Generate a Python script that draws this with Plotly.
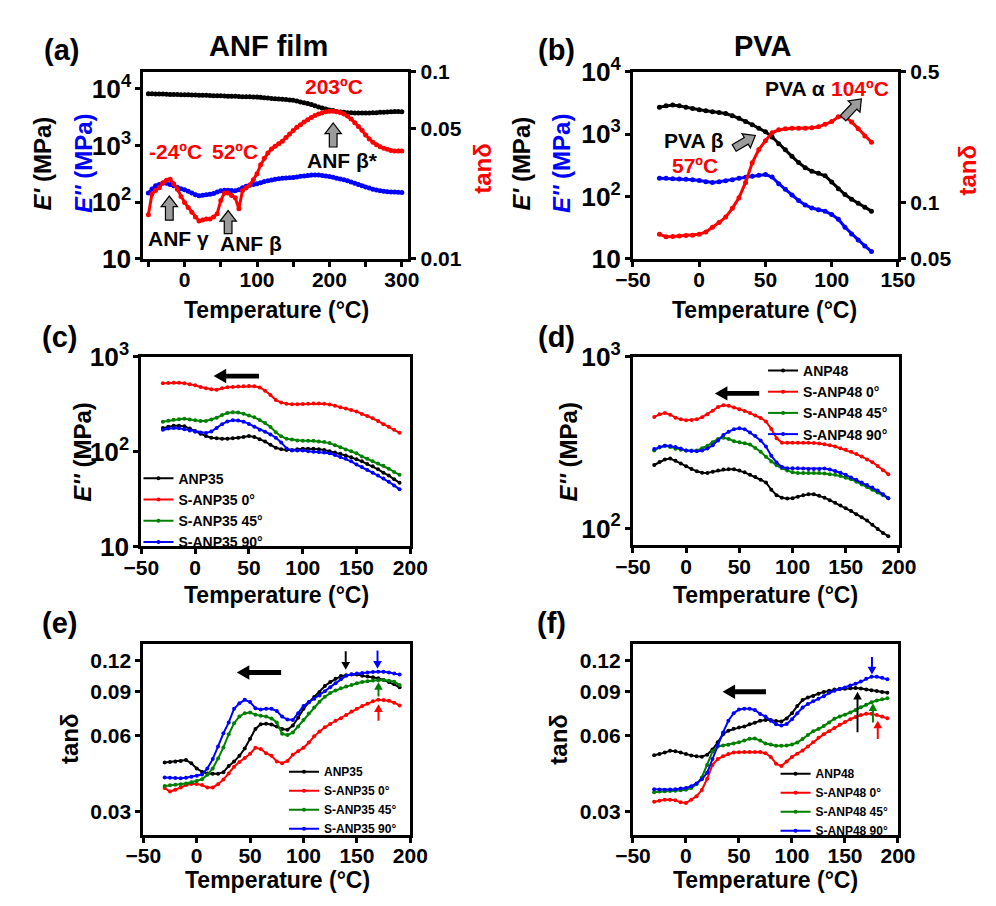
import math
import plotly.graph_objects as go

W, H = 996, 906

# ---------------- DATA ----------------
# (a) ANF film
T_A = list(range(-50, 305, 5))
A_Eprime = [8200, 8200, 8150, 8100, 8100, 8050, 8000, 8000, 7950, 7900,
            7900, 7850, 7800, 7800, 7750, 7700, 7700, 7650, 7600, 7600,
            7550, 7500, 7450, 7400, 7400, 7350, 7300, 7300, 7250, 7200,
            7200, 7100, 7000, 6900, 6800, 6700, 6650, 6550, 6500, 6400,
            6300, 6100, 5900, 5700, 5550, 5300, 5050, 4800, 4600, 4400,
            4250, 4150, 4000, 3900, 3850, 3800, 3780, 3760, 3750, 3750,
            3750, 3760, 3780, 3800, 3850, 3880, 3900, 3950, 3970, 3980,
            3950]
A_Edouble = [145, 170, 195, 205, 215, 215, 205, 195, 182, 172,
             165, 155, 145, 135, 130, 132, 135, 138, 142, 150,
             158, 162, 162, 160, 158, 165, 180, 190, 198, 205,
             210, 220, 230, 238, 245, 252, 258, 263, 267, 270,
             272, 278, 285, 290, 295, 300, 302, 300, 295, 290,
             283, 275, 265, 257, 249, 238, 226, 215, 205, 195,
             185, 177, 168, 163, 158, 155, 153, 151, 150, 149,
             148]
A_tan = [0.0172, 0.0222, 0.0232, 0.0240, 0.0255, 0.0263, 0.0266, 0.0252, 0.0235, 0.0215,
         0.0200, 0.0188, 0.0177, 0.0167, 0.0159, 0.0161, 0.0163, 0.0163, 0.0167, 0.0174,
         0.0205, 0.0225, 0.0225, 0.0218, 0.0212, 0.0185, 0.0232, 0.0240, 0.0248, 0.0265,
         0.0285, 0.0318, 0.0345, 0.0368, 0.0387, 0.0400, 0.0412, 0.0425, 0.0445, 0.0465,
         0.0485, 0.0505, 0.0521, 0.0540, 0.0555, 0.0570, 0.0585, 0.0596, 0.0605, 0.0612,
         0.0615, 0.0616, 0.0613, 0.0606, 0.0595, 0.0580, 0.0560, 0.0535, 0.0511, 0.0487,
         0.0460, 0.0437, 0.0420, 0.0407, 0.0397, 0.0390, 0.0385, 0.0380, 0.0377, 0.0377,
         0.0377]

# (b) PVA
T_B = list(range(-30, 135, 5))
B_Eprime = [2720, 2850, 2950, 2850, 2700, 2580, 2470, 2380, 2300, 2230,
            2145, 1980, 1800, 1600, 1416, 1250, 1091, 900, 700, 560,
            440, 350, 290, 254, 235, 215, 170, 133, 107, 90,
            78, 67, 58]
B_Edouble = [196, 195, 193, 191, 189, 186, 180, 172, 168, 172,
             178, 185, 195, 203, 210, 218, 224, 205, 160, 130,
             105, 86, 73, 65, 61, 58, 51, 43, 32, 25,
             20, 16, 13]
B_tan = [0.0675, 0.0655, 0.0658, 0.0662, 0.0665, 0.0668, 0.0675, 0.0695, 0.0736, 0.0780,
         0.0835, 0.0930, 0.1060, 0.1280, 0.1630, 0.1920, 0.2140, 0.2360, 0.2450, 0.2480,
         0.2500, 0.2500, 0.2500, 0.2510, 0.2540, 0.2620, 0.2710, 0.2876, 0.2876, 0.2700,
         0.2480, 0.2270, 0.2100]

# (c)-(f) common temperature grid
T_CF = list(range(-30, 195, 5))

C_ANP35 = [177, 183, 187, 187, 185, 175, 165, 154, 146,
           140, 138, 137, 137, 138, 140, 143, 146, 143,
           135, 128, 118, 110, 106, 104, 104, 106, 107,
           107, 107, 106, 104, 101, 98, 95, 91, 87,
           83, 79, 74, 70, 65, 60, 56, 51, 47]
C_S0 = [525, 530, 533, 533, 528, 515, 500, 480, 465,
        455, 450, 465, 478, 482, 486, 490, 493, 490,
        475, 440, 395, 350, 330, 320, 317, 317, 318,
        320, 322, 322, 320, 315, 305, 293, 285, 275,
        265, 250, 238, 225, 210, 195, 183, 170, 158]
C_S45 = [207, 212, 217, 220, 222, 218, 214, 211, 211,
         218, 228, 243, 255, 260, 258, 251, 240, 230,
         215, 200, 182, 160, 145, 137, 134, 131, 130,
         130, 130, 128, 126, 123, 117, 111, 105, 101,
         96, 89, 84, 79, 75, 71, 66, 61, 57]
C_S90 = [170, 175, 177, 176, 172, 167, 162, 159, 157,
         163, 178, 195, 208, 214, 213, 207, 196, 183,
         170, 162, 152, 140, 125, 108, 103, 103, 103,
         101, 100, 99, 98, 96, 92, 88, 84, 79,
         73, 69, 64, 60, 56, 52, 48, 44, 40]

D_ANP48 = [234, 244, 252, 255, 248, 239, 230, 222, 215,
           211, 210, 214, 217, 220, 221, 221, 217, 212,
           205, 199, 192, 185, 168, 156, 151, 149, 150,
           153, 156, 158, 158, 155, 151, 146, 141, 136,
           131, 126, 121, 116, 111, 105, 99, 94, 90]
D_S0 = [446, 462, 470, 460, 442, 432, 427, 428, 432,
        445, 462, 485, 510, 522, 518, 507, 495, 484,
        470, 455, 440, 420, 380, 335, 316, 316, 316,
        316, 316, 315, 314, 312, 309, 305, 300, 293,
        287, 280, 271, 262, 252, 243, 231, 218, 207]
D_S45 = [284, 296, 303, 298, 291, 287, 284, 284, 284,
         293, 303, 318, 332, 337, 332, 322, 318, 313,
         308, 294, 280, 261, 245, 233, 224, 217, 212,
         210, 210, 210, 210, 210, 209, 207, 205, 202,
         197, 193, 187, 180, 174, 168, 162, 156, 150]
D_S90 = [290, 298, 303, 302, 298, 292, 284, 282, 281,
         284, 292, 305, 325, 350, 366, 378, 383, 378,
         362, 345, 325, 300, 265, 242, 228, 224, 224,
         224, 223, 222, 222, 222, 223, 220, 216, 211,
         205, 198, 192, 185, 179, 173, 166, 158, 150]

E_ANP35 = [0.0470, 0.0472, 0.0474, 0.0477, 0.0481, 0.0467, 0.0445, 0.0432, 0.0425,
           0.0424, 0.0424, 0.0430, 0.0455, 0.0474, 0.0500, 0.0535, 0.0585, 0.0640,
           0.0668, 0.0672, 0.0667, 0.0655, 0.0640, 0.0636, 0.0660, 0.0710, 0.0770,
           0.0818, 0.0858, 0.0900, 0.0950, 0.0985, 0.1015, 0.1041, 0.1050, 0.1056,
           0.1055, 0.1045, 0.1038, 0.1030, 0.1021, 0.1005, 0.0985, 0.0965, 0.0940]
E_S0 = [0.0372, 0.0360, 0.0366, 0.0374, 0.0382, 0.0386, 0.0386, 0.0382, 0.0374,
        0.0374, 0.0385, 0.0402, 0.0425, 0.0452, 0.0472, 0.0490, 0.0510, 0.0538,
        0.0532, 0.0512, 0.0500, 0.0475, 0.0467, 0.0477, 0.0505, 0.0522, 0.0538,
        0.0565, 0.0598, 0.0625, 0.0650, 0.0670, 0.0690, 0.0706, 0.0728, 0.0752,
        0.0770, 0.0790, 0.0808, 0.0825, 0.0837, 0.0836, 0.0830, 0.0815, 0.0795]
E_S45 = [0.0379, 0.0381, 0.0383, 0.0385, 0.0388, 0.0392, 0.0397, 0.0403, 0.0420,
         0.0445, 0.0488, 0.0540, 0.0610, 0.0675, 0.0718, 0.0740, 0.0745, 0.0730,
         0.0722, 0.0717, 0.0705, 0.0680, 0.0612, 0.0605, 0.0620, 0.0655, 0.0695,
         0.0738, 0.0780, 0.0822, 0.0860, 0.0890, 0.0912, 0.0930, 0.0945, 0.0958,
         0.0975, 0.0985, 0.0993, 0.0999, 0.1002, 0.1005, 0.0998, 0.0988, 0.0960]
E_S90 = [0.0410, 0.0409, 0.0408, 0.0407, 0.0409, 0.0412, 0.0416, 0.0421, 0.0445,
         0.0485, 0.0545, 0.0615, 0.0680, 0.0771, 0.0810, 0.0837, 0.0820, 0.0775,
         0.0765, 0.0771, 0.0770, 0.0755, 0.0717, 0.0698, 0.0695, 0.0740, 0.0790,
         0.0818, 0.0845, 0.0870, 0.0905, 0.0940, 0.0975, 0.1010, 0.1045, 0.1058,
         0.1065, 0.1070, 0.1075, 0.1080, 0.1083, 0.1083, 0.1075, 0.1065, 0.1055]

F_ANP48 = [0.0503, 0.0508, 0.0515, 0.0524, 0.0522, 0.0515, 0.0508, 0.0502, 0.0498,
           0.0496, 0.0505, 0.0530, 0.0566, 0.0610, 0.0630, 0.0641, 0.0648, 0.0655,
           0.0668, 0.0678, 0.0690, 0.0695, 0.0695, 0.0688, 0.0685, 0.0705, 0.0740,
           0.0790, 0.0835, 0.0855, 0.0867, 0.0885, 0.0900, 0.0910, 0.0920, 0.0924,
           0.0927, 0.0930, 0.0933, 0.0928, 0.0920, 0.0913, 0.0908, 0.0900, 0.0893]
F_S0 = [0.0328, 0.0331, 0.0334, 0.0334, 0.0332, 0.0326, 0.0324, 0.0334, 0.0345,
        0.0365, 0.0405, 0.0460, 0.0485, 0.0498, 0.0508, 0.0515, 0.0517, 0.0518,
        0.0518, 0.0518, 0.0518, 0.0512, 0.0495, 0.0465, 0.0455, 0.0475, 0.0495,
        0.0510, 0.0525, 0.0545, 0.0566, 0.0590, 0.0610, 0.0627, 0.0645, 0.0665,
        0.0682, 0.0700, 0.0715, 0.0728, 0.0737, 0.0737, 0.0727, 0.0717, 0.0706]
F_S45 = [0.0358, 0.0360, 0.0361, 0.0362, 0.0363, 0.0364, 0.0366, 0.0372, 0.0385,
         0.0410, 0.0460, 0.0520, 0.0545, 0.0550, 0.0554, 0.0560, 0.0566, 0.0575,
         0.0585, 0.0586, 0.0575, 0.0560, 0.0555, 0.0549, 0.0549, 0.0550, 0.0555,
         0.0565, 0.0584, 0.0605, 0.0627, 0.0640, 0.0657, 0.0680, 0.0703, 0.0718,
         0.0730, 0.0745, 0.0762, 0.0782, 0.0800, 0.0818, 0.0832, 0.0842, 0.0848]
F_S90 = [0.0368, 0.0367, 0.0366, 0.0367, 0.0368, 0.0370, 0.0372, 0.0378, 0.0388,
         0.0403, 0.0428, 0.0485, 0.0550, 0.0620, 0.0690, 0.0740, 0.0765, 0.0771,
         0.0771, 0.0762, 0.0735, 0.0718, 0.0690, 0.0668, 0.0660, 0.0670, 0.0700,
         0.0740, 0.0780, 0.0805, 0.0825, 0.0845, 0.0865, 0.0893, 0.0910, 0.0925,
         0.0938, 0.0955, 0.0970, 0.0990, 0.1015, 0.1035, 0.1035, 0.1025, 0.1012]

NAMES_35 = ["ANP35", "S-ANP35 0°", "S-ANP35 45°", "S-ANP35 90°"]
NAMES_48 = ["ANP48", "S-ANP48 0°", "S-ANP48 45°", "S-ANP48 90°"]
TANX_TICKS = [0.03, 0.06, 0.09, 0.12]
TANX_TEXT = ["0.03", "0.06", "0.09", "0.12"]

# ---------------- STYLE ----------------
BLACK, RED, GREEN, BLUE = "#000000", "#ff0000", "#008000", "#0000ff"
COLORS = [BLACK, RED, GREEN, BLUE]
FONT = "Arial"

fig = go.Figure()


def box_domain(left, top, right, bottom):
    return [left / W, right / W], [1 - bottom / H, 1 - top / H]


def P(px, py):
    return px / W, 1 - py / H


def add_series(x, y, color, xa, ya, name=None, legend=None, msize=4, lw=2):
    fig.add_trace(go.Scatter(
        x=x, y=y, mode="lines+markers", name=name,
        line=dict(color=color, width=lw),
        marker=dict(color=color, size=msize, symbol="circle"),
        xaxis=xa, yaxis=ya,
        showlegend=legend is not None,
        legend=legend if legend else "legend"))


# (a)
add_series(T_A, A_Eprime, BLACK, "x", "y", msize=5, lw=3)
add_series(T_A, A_Edouble, BLUE, "x", "y", msize=5, lw=3)
add_series(T_A, A_tan, RED, "x", "y2", msize=5, lw=3)
# (b)
add_series(T_B, B_Edouble, BLUE, "x2", "y4", msize=5, lw=3)
add_series(T_B, B_Eprime, BLACK, "x2", "y3", msize=5, lw=3)
add_series(T_B, B_tan, RED, "x2", "y5", msize=5, lw=3)
# (c)
for s, c, n in zip([C_ANP35, C_S0, C_S45, C_S90], COLORS, NAMES_35):
    add_series(T_CF, s, c, "x3", "y6", name=n, legend="legend")
# (d)
for s, c, n in zip([D_ANP48, D_S0, D_S45, D_S90], COLORS, NAMES_48):
    add_series(T_CF, s, c, "x4", "y7", name=n, legend="legend2")
# (e)
for s, c, n in zip([E_ANP35, E_S0, E_S45, E_S90], COLORS, NAMES_35):
    add_series(T_CF, s, c, "x5", "y8", name=n, legend="legend3")
# (f)
for s, c, n in zip([F_ANP48, F_S0, F_S45, F_S90], COLORS, NAMES_48):
    add_series(T_CF, s, c, "x6", "y9", name=n, legend="legend4")

TICKFONT = dict(family=FONT, size=21, color="black", weight="bold")


def axis(domain, rng, anchor, **kw):
    d = dict(domain=domain, range=rng, anchor=anchor, showline=True,
             linecolor="black", linewidth=3, mirror=True, ticks="outside",
             ticklen=5, tickwidth=2.5, tickcolor="black", showgrid=False,
             zeroline=False, tickfont=TICKFONT)
    d.update(kw)
    return d


dxa, dya = box_domain(130, 55, 405, 249)
dxb, dyb = box_domain(638, 55, 913, 249)
dxc, dyc = box_domain(128, 351, 407, 548)
dxd, dyd = box_domain(638, 351, 914, 547)
dxe, dye = box_domain(130, 649, 407, 848)
dxf, dyf = box_domain(638, 649, 913, 848)

logfmt = dict(type="log", dtick=1, exponentformat="power")
XS = dict(ticklabelstandoff=-5)

fig.update_layout(
    xaxis=axis(dxa, [-57, 309], "y", dtick=100, tick0=0,
               minor=dict(dtick=50, tick0=0, ticks="outside", ticklen=5,
                          tickwidth=2.5, tickcolor="black"), **XS),
    yaxis=axis(dya, [1, 4.3], "x", **logfmt),
    yaxis2=axis(dya, [-2, -1], "x", type="log", overlaying="y", side="right",
                tickvals=[0.01, 0.05, 0.1], ticktext=["0.01", "0.05", "0.1"], mirror=False),
    xaxis2=axis(dxb, [-50, 150], "y3", dtick=50, tick0=0, **XS),
    yaxis3=axis(dyb, [1, 4], "x2", **logfmt),
    yaxis4=axis(dyb, [1, 4], "x2", type="log", overlaying="y3", showline=False,
                showticklabels=False, ticks=""),
    yaxis5=axis(dyb, [math.log10(0.05), math.log10(0.5)], "x2", type="log",
                overlaying="y3", side="right", tickvals=[0.05, 0.1, 0.5],
                ticktext=["0.05", "0.1", "0.5"], mirror=False),
    xaxis3=axis(dxc, [-50, 200], "y6", dtick=50, tick0=0, **XS),
    yaxis6=axis(dyc, [1, 3], "x3", **logfmt),
    xaxis4=axis(dxd, [-50, 200], "y7", dtick=50, tick0=0, **XS),
    yaxis7=axis(dyd, [1.9, 3], "x4", **logfmt),
    xaxis5=axis(dxe, [-50, 200], "y8", dtick=50, tick0=0, **XS),
    yaxis8=axis(dye, [-1.618, -0.853], "x5", type="log", tickvals=TANX_TICKS, ticktext=TANX_TEXT),
    xaxis6=axis(dxf, [-50, 200], "y9", dtick=50, tick0=0, **XS),
    yaxis9=axis(dyf, [-1.618, -0.853], "x6", type="log", tickvals=TANX_TICKS, ticktext=TANX_TEXT),
)


def legend_at(px, py, size):
    x, y = P(px, py)
    return dict(x=x, y=y, xanchor="left", yanchor="top", bgcolor="rgba(0,0,0,0)",
                font=dict(family=FONT, size=size, color="black", weight="bold"),
                itemwidth=30, tracegroupgap=0, borderwidth=0)


fig.update_layout(
    legend=legend_at(125, 461, 14),
    legend2=legend_at(773, 349, 14),
    legend3=legend_at(276, 767, 12),
    legend4=legend_at(786, 769, 12),
)

# ---------------- ANNOTATIONS ----------------
ann = []


def text(t, px, py, size=21, color="black", angle=0):
    x, y = P(px, py)
    ann.append(dict(text=t, x=x, y=y, xref="paper", yref="paper", showarrow=False,
                    xanchor="center", yanchor="middle", textangle=angle,
                    font=dict(family=FONT, size=size, color=color, weight="bold")))


# panel letters and titles
for t, px, py in [("(a)", 45, 32), ("(b)", 559, 32), ("(c)", 43, 330),
                  ("(d)", 559, 330), ("(e)", 43, 628), ("(f)", 554, 628)]:
    text(t, px, py, size=29)
text("ANF film", 260, 28, size=29)
text("PVA", 773, 28, size=29)

# x axis titles
for px, py in [(268, 302), (775, 302), (268, 598), (776, 598), (269, 895), (776, 895)]:
    text("Temperature (°C)", px, py, size=23)

# y axis titles
text("<i>E'</i> (MPa)", 25, 150, size=24, angle=-90)
text("<i>E''</i> (MPa)", 68, 150, size=24, color=BLUE, angle=-90)
text("tanδ", 482, 155, size=24, color=RED, angle=-90)
text("<i>E'</i> (MPa)", 522, 150, size=24, angle=-90)
text("<i>E''</i> (MPa)", 564, 150, size=24, color=BLUE, angle=-90)
text("tanδ", 985, 157, size=24, color=RED, angle=-90)
text("<i>E''</i> (MPa)", 67, 450, size=24, angle=-90)
text("<i>E''</i> (MPa)", 571, 450, size=24, angle=-90)
text("tanδ", 54, 748, size=24, angle=-90)
text("tanδ", 561, 748, size=24, angle=-90)

# in-plot labels (a)
text("-24ºC", 163, 138, color=RED)
text("52ºC", 225, 138, color=RED)
text("203ºC", 328, 70, color=RED)
text("ANF γ", 167, 228)
text("ANF β", 242, 233)
text("ANF β*", 337, 147)
# (b)
text("PVA α", 806, 72)
text("104ºC", 874, 72, color=RED)
text("PVA β", 701, 126)
text("57ºC", 702, 152, color=RED)

fig.update_layout(annotations=ann)


def block_arrow(tail, head, shaft, headw, headlen, fill, outline=None, lw=1.2):
    tx, ty = tail
    hx, hy = head
    dx, dy = hx - tx, hy - ty
    L = math.hypot(dx, dy)
    ux, uy = dx / L, dy / L
    nx, ny = -uy, ux
    bx, by = hx - ux * headlen, hy - uy * headlen
    pts = [(tx + nx * shaft / 2, ty + ny * shaft / 2),
           (bx + nx * shaft / 2, by + ny * shaft / 2),
           (bx + nx * headw / 2, by + ny * headw / 2),
           (hx, hy),
           (bx - nx * headw / 2, by - ny * headw / 2),
           (bx - nx * shaft / 2, by - ny * shaft / 2),
           (tx - nx * shaft / 2, ty - ny * shaft / 2)]
    path = "M " + " L ".join(f"{x / W:.5f},{1 - y / H:.5f}" for x, y in pts) + " Z"
    fig.add_shape(type="path", path=path, xref="paper", yref="paper",
                  fillcolor=fill,
                  line=dict(color=outline if outline else fill, width=lw if outline else 0))


GREY = "#9b9b9b"
# grey block arrows (a), (b)
block_arrow((157, 209), (157, 184), 8, 17, 11, GREY, "black")
block_arrow((218, 223), (218, 199), 8, 17, 11, GREY, "black")
block_arrow((327, 133), (327, 108), 8, 17, 11, GREY, "black")
block_arrow((743, 134), (765, 121), 8, 17, 11, GREY, "black")
block_arrow((856, 103), (875, 83), 8, 17, 11, GREY, "black")

# big black left arrows
block_arrow((250, 371), (203, 371), 5, 15, 13, BLACK)
block_arrow((769, 389), (723, 389), 5, 15, 13, BLACK)
block_arrow((273, 679), (227, 679), 5, 15, 13, BLACK)
block_arrow((776, 699), (731, 699), 5, 15, 13, BLACK)

# small coloured arrows (e)
block_arrow((340, 657), (340, 676), 2, 9, 8, BLACK)
block_arrow((373, 656), (373, 675), 2, 9, 8, BLUE)
block_arrow((374, 704), (374, 689), 2, 9, 8, GREEN)
block_arrow((374, 729), (374, 712), 2, 9, 8, RED)
# small coloured arrows (f)
block_arrow((886, 663), (886, 681), 2, 9, 8, BLUE)
block_arrow((871, 741), (871, 699), 2, 9, 8, BLACK)
block_arrow((887, 731), (887, 711), 2, 9, 8, GREEN)
block_arrow((892, 748), (892, 729), 2, 9, 8, RED)

fig.update_layout(width=W, height=H, margin=dict(l=0, r=0, t=0, b=0),
                  paper_bgcolor="white", plot_bgcolor="rgba(0,0,0,0)",
                  font=dict(family=FONT, color="black"))

fig.write_html("out.html",
               post_script="document.body.style.margin='0';document.body.style.padding='0';")
